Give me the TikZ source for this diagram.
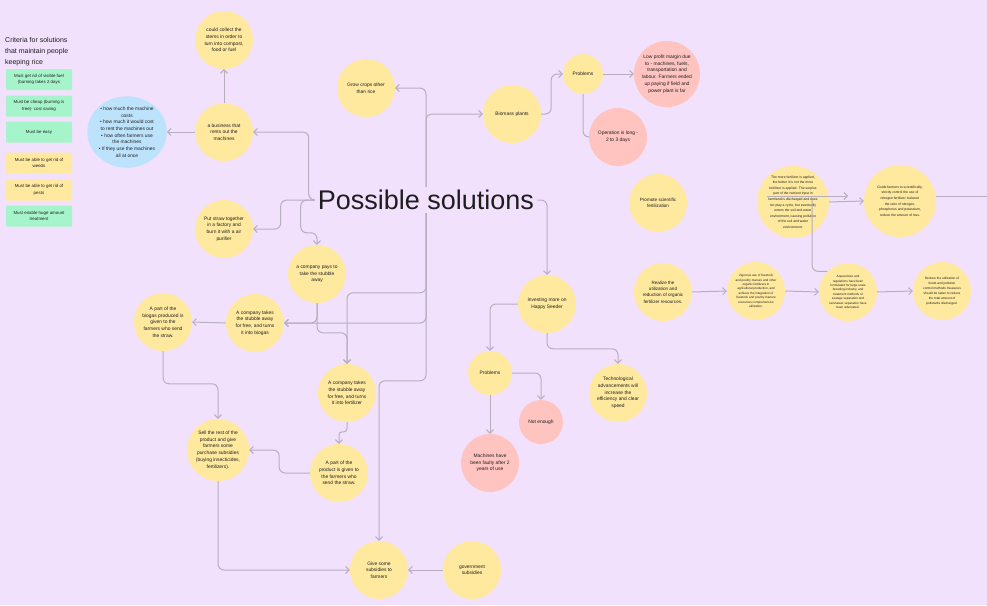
\documentclass[tikz,border=0pt]{standalone}
\usepackage{fontspec}
\setmainfont{Liberation Sans}
\usepackage{xcolor}
\usetikzlibrary{shapes.geometric}
\usetikzlibrary{arrows.meta}
\usetikzlibrary{calc}
\usetikzlibrary{positioning}

\definecolor{boardbg}{HTML}{F2E1FC}
\definecolor{stickyyellow}{HTML}{FFE99F}
\definecolor{stickypink}{HTML}{FFC3C0}
\definecolor{stickyblue}{HTML}{BDE3FC}
\definecolor{stickygreen}{HTML}{A6F5CA}
\definecolor{linkgray}{HTML}{B7AEBE}
\definecolor{inkgray}{HTML}{1E1E1E}

\tikzset{
  idea/.style={circle, fill=stickyyellow, inner sep=0pt, minimum size=58pt,
    align=center, text=inkgray, font=\fontsize{4.9}{6.7}\selectfont},
  issue/.style={idea, fill=stickypink},
  smallidea/.style={idea, minimum size=42pt},
  finetext/.style={font=\fontsize{3.4}{5.6}\selectfont},
  tinytext/.style={font=\fontsize{3.1}{4.4}\selectfont},
  criterion/.style={rectangle, rounded corners=1pt, fill=stickygreen,
    minimum width=66pt, minimum height=21pt, inner sep=1pt, align=center,
    text=inkgray, font=\fontsize{4.4}{6.6}\selectfont},
  link/.style={draw=linkgray, line width=1pt, rounded corners=6pt, ->},
  plainlink/.style={draw=linkgray, line width=1pt, rounded corners=6pt},
}

\begin{document}
\begin{tikzpicture}[
  x=1pt, y=-1pt,
  >={Straight Barb[length=3.5pt,width=7pt]},
]

  % Board
  \fill[boardbg] (0,0) rectangle (987,605);
  \useasboundingbox (0,0) rectangle (987,605);

  % Criteria column
  \node[anchor=north west, align=left, inner sep=0pt, text=inkgray,
    font=\fontsize{7}{11}\selectfont] (crithead) at (5,37.5)
    {Criteria for solutions\\that maintain people\\keeping rice};
  \node[criterion] (crit1) at (39,79.5) {Must get rid of visible fuel\\(burning takes 2 days};
  \node[criterion] (crit2) at (39,106) {Must be cheap (burning is\\free)- cost saving};
  \node[criterion] (crit3) at (39,132) {Must be easy};
  \node[criterion, fill=stickyyellow] (crit4) at (39,163) {Must be able to get rid of\\weeds};
  \node[criterion, fill=stickyyellow] (crit5) at (39,190) {Must be able to get rid of\\pests};
  \node[criterion] (crit6) at (39,216) {Must enable huge amount\\treatment};

  % Title
  \node[inner sep=3pt, text=inkgray, font=\fontsize{27}{30}\selectfont] (title)
    at (426,200) {Possible solutions};

  % Machine rental branch
  \node[idea] (collect) at (224,40) {could collect the\\stems in order to\\turn into compost,\\food or fuel};
  \node[idea] (business) at (224,132) {a business that\\rents out the\\machines};
  \node[ellipse, fill=stickyblue, inner sep=0pt, align=center, text=inkgray,
    font=\fontsize{4.9}{6.7}\selectfont] (costs) at (127,132)
    {\textbullet\ how much the machine\\costs\\\textbullet\ how much it would cost\\to rent the machines out\\\textbullet\ how often farmers use\\the machines\\\textbullet\ If they use the machines\\all at once};

  % Stubble branch
  \node[idea] (straw) at (224,229) {Put straw together\\in a factory and\\burn it with a air\\purifier};
  \node[idea] (pays) at (317,274) {a company pays to\\take the stubble\\away};
  \node[idea] (biogas) at (255,323) {A company takes\\the stubble away\\for free, and turns\\it into biogas};
  \node[idea] (biogaspart) at (163,322) {A part of the\\biogas produced is\\given to the\\farmers who send\\the straw.};
  \node[idea] (fertco) at (347,393) {A company takes\\the stubble away\\for free, and turns\\it into fertilizer};
  \node[idea] (productpart) at (339,473) {A part of the\\product is given to\\the farmers who\\send the straw.};
  \node[idea, minimum size=62pt] (sell) at (218,450) {Sell the rest of the\\product and give\\farmers some\\purchase subsidies\\(buying insecticides,\\fertilizers).};
  \node[idea] (give) at (379,570) {Give some\\subsidies to\\farmers};
  \node[idea] (govsub) at (472,570) {government\\subsidies};

  % Other crops and biomass
  \node[idea] (grow) at (366,88) {Grow crops other\\than rice};
  \node[idea] (biomass) at (512,114) {Biomass plants};
  \node[idea, minimum size=40pt] (probA) at (583,74) {Problems};
  \node[issue, minimum size=66pt] (lowprofit) at (667,74) {Low profit margin due\\to - machines, fuels,\\transportation and\\labour. Farmers ended\\up paying if field and\\power plant is far};
  \node[issue] (operation) at (618,137) {Operation is long -\\2 to 3 days};

  % Fertilization
  \node[idea, font=\fontsize{4.6}{6.4}\selectfont] (promote) at (658,203) {Promote scientific\\fertilization};
  \node[idea, finetext, minimum size=70pt] (surplus) at (793,202) {The more fertilizer is applied,\\the better it is not the more\\fertilizer is applied. The surplus\\part of the nutrient input in\\farmland is discharged and does\\not play a cycle, but eventually\\enters the soil and water\\environment, causing pollution\\of the soil and water\\environment.};
  \node[idea, finetext, minimum size=72pt] (guide) at (900,201) {Guide farmers to scientifically,\\strictly control the use of\\nitrogen fertilizer, balance\\the ratio of nitrogen,\\phosphorus and potassium,\\reduce the amount of loss.};
  \node[idea, font=\fontsize{4.6}{6.4}\selectfont] (realize) at (663,292) {Realize the\\utilization and\\reduction of organic\\fertilizer resources.};
  \node[idea, tinytext] (manure) at (756,291) {Vigorous use of livestock\\and poultry manure and other\\organic fertilizers in\\agricultural production, and\\achieve the integration of\\livestock and poultry manure\\resources comprehensive\\utilization.};
  \node[idea, tinytext] (aqua) at (848,292) {Aquaculture and\\regulations have been\\formulated for large-scale\\breeding industry, and\\treatment methods of\\sewage separation and\\rain/sewer separation have\\been advocated.};
  \node[idea, font=\fontsize{3.2}{4.9}\selectfont] (reduce) at (942,291) {Reduce the utilization of\\feeds and pollution\\control methods measures\\should be taken to reduce\\the total amount of\\pollutants discharged.};

  % Happy Seeder
  \node[idea] (seeder) at (547,304) {Investing more on\\Happy Seeder};
  \node[idea, minimum size=44pt] (probB) at (490,373) {Problems};
  \node[issue, minimum size=44pt] (notenough) at (541,422) {Not enough};
  \node[issue] (faulty) at (490,463) {Machines have\\been faulty after 2\\years of use};
  \node[idea] (tech) at (618,393) {Technological\\advancements will\\increase the\\efficiency and clear\\speed};

  % Connectors from the title
  \draw[link] (title.north) |- (grow.east);
  \draw[link] (title.north) |- (biomass.west);
  \draw[link] (title.east) -| (seeder.north);
  \draw[link] (title.west) -- ++(-6,0) |- (business.east);
  \draw[link] (title.west) -- ++(-34,0) |- (straw.east);
  \draw[link] (title.west) -- ++(-14,0) |- ($(pays.north)+(0,-12)$) -- (pays.north);
  \draw[link] (title.south) |- ($(fertco.north)+(0,-71)$) -- (fertco.north);
  \draw[link] (title.south) |- (biogas.east);
  \draw[link] (title.south) |- ($(give.north)+(0,-160)$) -- (give.north);

  % Machine rental
  \draw[link] (business.west) -- (costs.east);
  \draw[link] (business.north) -- (collect.south);

  % Stubble chain
  \draw[link] (pays.south) |- (biogas.east);
  \draw[link] (pays.south) |- ($(fertco.north)+(0,-31)$) -- (fertco.north);
  \draw[link] (biogas.west) -- (biogaspart.east);
  \draw[link] (biogaspart.south) |- ($(sell.north)+(0,-35)$) -- (sell.north);
  \draw[link, rounded corners=3pt] (fertco.south) |- ($(productpart.north)+(0,-12)$) -- (productpart.north);
  \draw[link] (productpart.west) -| ($(sell.east)+(30,0)$) -- (sell.east);
  \draw[link] (sell.south) |- (give.west);
  \draw[link] (govsub.west) -- (give.east);

  % Biomass
  \draw[link] (biomass.east) -- ++(10,0) |- (probA.west);
  \draw[link] (probA.east) -- (lowprofit.west);
  \draw[plainlink] (probA.south) |- (operation.west);

  % Happy Seeder
  \draw[link] (seeder.west) -| (probB.north);
  \draw[link] (seeder.south) |- ($(tech.north)+(0,-15)$) -- (tech.north);
  \draw[link] (probB.east) -| (notenough.north);
  \draw[link] (probB.south) -- (faulty.north);

  % Fertilizer rows
  \coordinate (strayA) at (767,196);
  \coordinate (strayB) at (848,196);
  \coordinate (strayC) at (812,200);
  \coordinate (offboard) at (987,196);
  \draw[link] (strayA) -- (strayB);
  \draw[link] (surplus.east) -- (guide.west);
  \draw[plainlink] (guide.east |- offboard) -- (offboard);
  \draw[plainlink] (strayC) |- (aqua.north west);
  \draw[link] (realize.east) -- (manure.west);
  \draw[link] (manure.east) -- (aqua.west);
  \draw[link] (aqua.east) -- (reduce.west);

\end{tikzpicture}
\end{document}
